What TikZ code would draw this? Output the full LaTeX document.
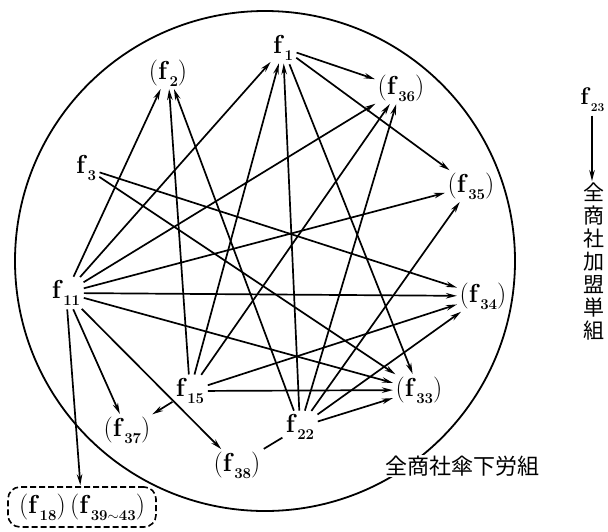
\documentclass[tikz,border=0pt]{standalone}
\usepackage{fontspec}
\newfontfamily\cjk{Noto Sans CJK JP}
\usetikzlibrary{arrows.meta}
\newcommand{\fsb}[1]{\textbf{f}\kern0.5pt\raisebox{-0.28em}{\fontsize{15}{15}\selectfont\bfseries #1}}
\newcommand{\pfsb}[1]{(\fsb{#1})}
\begin{document}
\begin{tikzpicture}[x=1pt,y=-1pt,
  lab/.style={inner sep=1.5pt, font=\fontsize{26}{28}\selectfont},
  arr/.style={line width=1.7pt, -{Stealth[length=11pt,width=5.5pt]}, shorten >=1pt, shorten <=2pt},
  ln/.style={line width=1.7pt, shorten >=2pt, shorten <=2pt},
  cjklab/.style={inner sep=1pt, font=\cjk\fontsize{21}{23}\selectfont}]
\useasboundingbox (0,0) rectangle (608,531);
\draw[line width=1.8pt] (265,261) circle [radius=250];
% nodes
\node[lab] (f1)  at (283,48)  {\fsb{1}};
\node[lab] (f2)  at (168,73)  {\pfsb{2}};
\node[lab] (f36) at (401,88)  {\pfsb{36}};
\node[lab] (f3)  at (86,168)  {\fsb{3}};
\node[lab] (f35) at (471,186) {\pfsb{35}};
\node[lab] (f11) at (66,293)  {\fsb{11}};
\node[lab] (f34) at (483,296) {\pfsb{34}};
\node[lab] (f15) at (190,391) {\fsb{15}};
\node[lab] (f33) at (419,390) {\pfsb{33}};
\node[lab] (f37) at (127,430) {\pfsb{37}};
\node[lab] (f22) at (300,427) {\fsb{22}};
\node[lab] (f38) at (237,465) {\pfsb{38}};
\node[lab, anchor=east, font=\fontsize{24}{26}\selectfont] (f23) at (606,100) {\textbf{f}\kern0.3pt\raisebox{-0.28em}{\fontsize{12}{12}\selectfont\bfseries 23}};
\node[cjklab, align=center] (v) at (594,262) {全\\商\\社\\加\\盟\\単\\組};
\node[cjklab, fill=white, font=\cjk\fontsize{22}{24}\selectfont] (u) at (462,466) {全商社傘下労組};
\node[lab, draw, line width=1.6pt, dash pattern=on 6pt off 3pt, rounded corners=12pt,
      minimum width=148pt, minimum height=40pt] (box) at (82,507)
      {\pfsb{18}\,\pfsb{39$\sim$43}};
% edges
\foreach \a/\b in {f1/f36, f1/f35, f1/f33,
  f11/f1, f15/f1, f22/f1,
  f11/f2, f15/f2, f22/f2,
  f11/f36, f15/f36, f22/f36,
  f11/f35, f22/f35,
  f11/f34, f3/f34, f15/f34, f22/f34,
  f11/f33, f3/f33, f15/f33, f22/f33,
  f11/f37, f15/f37, f11/f38, f11/box}
  \draw[arr] (\a) -- (\b);
\draw[arr] (f23.south -| 592,0) -- (v.north -| 592,0);
\draw[ln] (f22) -- (f38);
\end{tikzpicture}
\end{document}
